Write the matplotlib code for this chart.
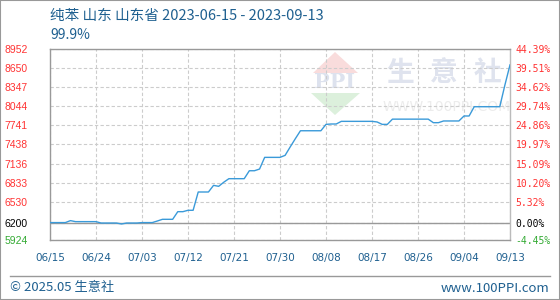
import pandas as pd
import matplotlib
matplotlib.use("Agg")
import matplotlib.pyplot as plt
import matplotlib.dates as mdates
from matplotlib.patches import Polygon, Rectangle
from matplotlib.lines import Line2D

plt.rcParams['font.family'] = ['Noto Sans CJK SC', 'DejaVu Sans']

# daily price of benzene, Shandong (yuan/t)
start = "2023-06-15"
end = "2023-09-13"
prices = [6200, 6200, 6200, 6200, 6231, 6215, 6215, 6215, 6215, 6215,
          6193, 6193, 6193, 6193, 6178, 6193, 6193, 6193, 6200, 6200,
          6200, 6225, 6252, 6252, 6252, 6373, 6373, 6395, 6395, 6685,
          6685, 6685, 6790, 6775, 6840, 6896, 6896, 6896, 6896, 7022,
          7022, 7049, 7234, 7234, 7234, 7234, 7266, 7400, 7530, 7656,
          7656, 7656, 7656, 7656, 7757, 7763, 7763, 7805, 7805, 7805,
          7805, 7805, 7805, 7805, 7795, 7757, 7757, 7840, 7840, 7840,
          7840, 7840, 7840, 7840, 7840, 7784, 7784, 7811, 7811, 7811,
          7811, 7890, 7890, 8037, 8037, 8037, 8037, 8037, 8037, 8380,
          8700]

y_ticks = [5924, 6200, 6530, 6833, 7136, 7438, 7741, 8044, 8347, 8650, 8952]
pct_labels = ["-4.45%", "0.00%", "5.32%", "10.20%", "15.09%", "19.97%",
              "24.86%", "29.74%", "34.62%", "39.51%", "44.39%"]
x_ticks = ["2023-06-15", "2023-06-24", "2023-07-03", "2023-07-12", "2023-07-21",
           "2023-07-30", "2023-08-08", "2023-08-17", "2023-08-26", "2023-09-04",
           "2023-09-13"]

dates = pd.date_range(start, end, freq="D")

W, H = 560, 300
def fx(x):
    return x / W
def fy(y):
    return 1 - y / H

fig = plt.figure(figsize=(5.6, 3.0), dpi=100)
ax = fig.add_axes([fx(50), fy(240), 460 / W, 191 / H])
ax.patch.set_alpha(0)

# watermark (behind the axes)
blue_text = '#1f6090'
fig.add_artist(Polygon([(fx(335), fy(52)), (fx(313), fy(73)), (fx(358), fy(73))],
                       closed=True, transform=fig.transFigure, fc='#f9dcdc', ec='none', zorder=-2))
fig.add_artist(Polygon([(fx(311), fy(93)), (fx(360), fy(93)), (fx(335), fy(115))],
                       closed=True, transform=fig.transFigure, fc='#dcf0dc', ec='none', zorder=-2))
fig.text(fx(335), fy(82), "PPI", ha='center', va='center', fontsize=15, fontweight='bold',
         family='DejaVu Serif', color='#dde2ee', zorder=-1)
for ch, cx in zip("生意社", [400, 444, 487]):
    fig.text(fx(cx), fy(73), ch, ha='center', va='center', fontsize=20, fontweight='bold',
             color='#dfe3ee', zorder=-1)
fig.text(fx(447), fy(107), "WWW.100PPI.COM", ha='center', va='center', fontsize=10,
         family='DejaVu Sans', color='#ececec', zorder=-1)

ax.plot(dates, prices, color='#3a9ad9', lw=1.0, zorder=3)

ax.set_xlim(dates[0], dates[-1])
ax.set_ylim(y_ticks[0], y_ticks[-1])

tick_colors = ['#33aa33', 'black'] + ['#ff3333'] * 9

ax.set_yticks(y_ticks)
ax.set_yticklabels([str(v) for v in y_ticks], family='Liberation Sans', fontsize=7.5)
for lbl, c in zip(ax.get_yticklabels(), tick_colors):
    lbl.set_color(c)
ax.tick_params(axis='y', length=0, pad=16)

xt = pd.to_datetime(x_ticks)
ax.set_xticks(xt)
ax.set_xticklabels([d.strftime("%m/%d") for d in xt], family='DejaVu Sans', fontsize=7.5,
                   color=blue_text)
ax.tick_params(axis='x', length=0, pad=9)

ax.grid(True, color='#cccccc', ls=(0, (3, 2)), lw=0.8)
ax.axhline(6200, color='#999999', lw=1.0, zorder=2)

for s in ['left', 'bottom', 'top']:
    ax.spines[s].set_color('#999999')
    ax.spines[s].set_linewidth(1.0)
ax.spines['right'].set_color('#bbbbbb')
ax.spines['right'].set_linewidth(1.0)

ax2 = ax.twinx()
ax2.set_ylim(y_ticks[0], y_ticks[-1])
ax2.set_yticks(y_ticks)
ax2.set_yticklabels(pct_labels, family='DejaVu Sans Mono', fontsize=7)
for lbl, c in zip(ax2.get_yticklabels(), tick_colors):
    lbl.set_color(c)
ax2.tick_params(axis='y', length=0, pad=4)
for s in ax2.spines.values():
    s.set_visible(False)

# title and footer
fig.text(fx(50), fy(16), "纯苯 山东 山东省 2023-06-15 - 2023-09-13", va='center',
         fontsize=10.5, color=blue_text)
fig.text(fx(50), fy(35), "99.9%", va='center', fontsize=10, color=blue_text)
fig.add_artist(Line2D([fx(10), fx(550)], [fy(276), fy(276)], transform=fig.transFigure,
                      color='#999999', lw=1.0))
fig.text(fx(10), fy(288), "© 2025.05 生意社", va='center', fontsize=9.5, color=blue_text)
fig.text(fx(549), fy(288), "www.100PPI.com", va='center', ha='right', fontsize=9.5,
         color=blue_text)
fig.add_artist(Rectangle((0, 0), 1, 1, transform=fig.transFigure, fill=False,
                         ec='#999999', lw=1.5))

fig.savefig("out.png", dpi=100)
